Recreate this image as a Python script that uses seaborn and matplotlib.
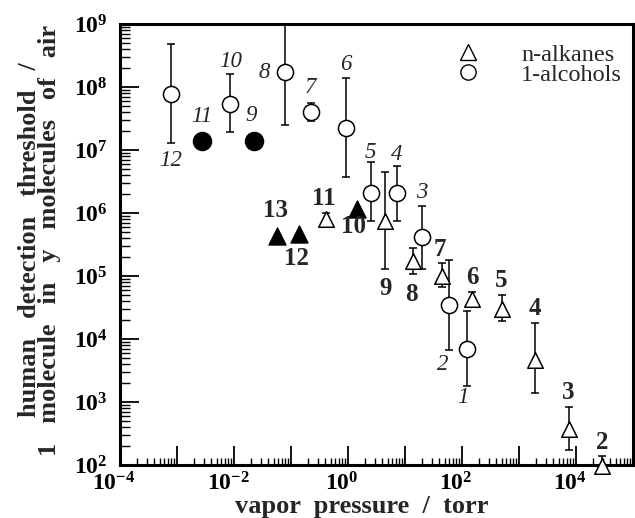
import numpy as np
import pandas as pd
import matplotlib
matplotlib.use("Agg")
import matplotlib.pyplot as plt
import matplotlib.ticker as mticker
import matplotlib.transforms as mtrans
from matplotlib.lines import Line2D
import seaborn as sns

# ---- data ----
alk_n = [2, 3, 4, 5, 6, 7, 8, 9, 10, 11, 12, 13]
alk_vp = [2.9e4, 7400, 1900, 510, 150, 45, 13.8, 4.5, 1.44, 0.41, 0.138, 0.057]
alk_thr = [95, 370, 4700, 3.0e4, 4.3e4, 1.0e5, 1.7e5, 7.6e5, 1.17e6, 7.9e5, 4.6e5, 4.3e5]
alk_lo = [95, 170, 1400, 1.9e4, 3.5e4, 6.8e4, 1.07e5, 1.3e5, np.nan, 6.6e5, np.nan, np.nan]
alk_hi = [140, 830, 1.8e4, 5.0e4, 5.6e4, 1.6e5, 2.8e5, 4.5e6, np.nan, 1.0e6, np.nan, np.nan]
alk_filled = [False, False, False, False, False, False, False, False, True, False, True, True]

alc_n = [1, 2, 3, 4, 5, 6, 7, 8, 9, 10, 11, 12]
alc_vp = [124, 59, 20, 7.1, 2.5, 0.91, 0.22, 0.078, 0.0223, 8.6e-3, 2.76e-3, 7.8e-4]
alc_thr = [6.9e3, 3.5e4, 4.1e5, 2.1e6, 2.1e6, 2.2e7, 4.0e7, 1.7e8, 1.4e7, 5.4e7, 1.4e7, 7.8e7]
alc_lo = [1.8e3, 6.8e3, 1.3e5, 7.6e5, 7.6e5, 3.7e6, 2.85e7, 2.5e7, np.nan, 1.9e7, np.nan, 1.3e7]
alc_hi = [2.8e4, 1.8e5, 1.3e6, 5.5e6, 6.5e6, 1.4e8, 5.6e7, 1.5e9, np.nan, 1.6e8, np.nan, 4.9e8]
alc_filled = [False, False, False, False, False, False, False, False, True, False, True, False]

x_tick_labels = [r"$\mathbf{10^{-4}}$", r"$\mathbf{10^{-2}}$", r"$\mathbf{10^{0}}$",
                 r"$\mathbf{10^{2}}$", r"$\mathbf{10^{4}}$"]

# label offsets (pixels) for the carbon-number annotations
alk_off = {2: (0, 24), 3: (0, 37), 4: (0, 51), 5: (-1, 28), 6: (0, 22), 7: (-2, 27),
           8: (-2, -33), 9: (0, -68), 10: (-4, -18), 11: (-2, 21), 12: (-2, -24), 13: (-2, 26)}
alc_off = {1: (-4, -48), 2: (-6, -60), 3: (0, 45), 4: (0, 38), 5: (0, 40), 6: (0, 64),
           7: (0, 25), 8: (-21, 0), 9: (-3, 25), 10: (0, 42), 11: (0, 24), 12: (0, -67)}

alk = pd.DataFrame(dict(n=alk_n, vp=alk_vp, thr=alk_thr, lo=alk_lo, hi=alk_hi, filled=alk_filled))
alc = pd.DataFrame(dict(n=alc_n, vp=alc_vp, thr=alc_thr, lo=alc_lo, hi=alc_hi, filled=alc_filled))

sns.set_style("ticks")
plt.rcParams["font.family"] = ["Liberation Serif", "DejaVu Serif"]
plt.rcParams["mathtext.fontset"] = "custom"
plt.rcParams["mathtext.rm"] = "Liberation Serif"
plt.rcParams["mathtext.bf"] = "Liberation Serif:bold"
plt.rcParams["mathtext.it"] = "Liberation Serif:italic"

fig = plt.figure(figsize=(6.35, 5.18), dpi=100)
ax = fig.add_axes([120 / 635, 1 - 465 / 518, (633 - 120) / 635, (465 - 24) / 518])
ax.set_xscale("log")
ax.set_yscale("log")
ax.set_xlim(1e-4, 1.0e5)
ax.set_ylim(1e2, 1e9)

# error bars
for df in (alk, alc):
    e = df.dropna()
    ax.errorbar(e["vp"], e["thr"], yerr=[e["thr"] - e["lo"], e["hi"] - e["thr"]],
                fmt="none", ecolor="black", elinewidth=1.1, capsize=3.2, capthick=1.1,
                zorder=2, clip_on=True)

ms = 125
sns.scatterplot(data=alk[~alk.filled], x="vp", y="thr", marker="^", s=ms,
                facecolor="white", edgecolor="black", linewidth=1.1, ax=ax, zorder=3, clip_on=False)
sns.scatterplot(data=alk[alk.filled], x="vp", y="thr", marker="^", s=ms + 25,
                color="black", edgecolor="black", linewidth=1.0, ax=ax, zorder=3)
sns.scatterplot(data=alc[~alc.filled], x="vp", y="thr", marker="o", s=ms + 10,
                facecolor="white", edgecolor="black", linewidth=1.1, ax=ax, zorder=3)
sns.scatterplot(data=alc[alc.filled], x="vp", y="thr", marker="o", s=ms + 45,
                color="black", edgecolor="black", linewidth=1.0, ax=ax, zorder=3)

for _, r in alk.iterrows():
    ax.annotate(str(int(r.n)), (r.vp, r.thr), xytext=alk_off[int(r.n)], textcoords="offset pixels",
                ha="center", va="center", fontsize=18, fontweight="bold", annotation_clip=False)
for _, r in alc.iterrows():
    ax.annotate(str(int(r.n)), (r.vp, r.thr), xytext=alc_off[int(r.n)], textcoords="offset pixels",
                ha="center", va="center", fontsize=16.5, fontstyle="italic", annotation_clip=False)

# axes styling
for s in ax.spines.values():
    s.set_linewidth(2.2)
    s.set_color("black")
ax.xaxis.set_major_locator(mticker.LogLocator(base=10, numticks=100))
ax.xaxis.set_minor_locator(mticker.LogLocator(base=10, subs=np.arange(2, 10), numticks=100))
ax.yaxis.set_major_locator(mticker.LogLocator(base=10, numticks=100))
ax.yaxis.set_minor_locator(mticker.LogLocator(base=10, subs=np.arange(2, 10), numticks=100))
ax.xaxis.set_minor_formatter(mticker.NullFormatter())
ax.yaxis.set_minor_formatter(mticker.NullFormatter())

xlabels = {-4: x_tick_labels[0], -2: x_tick_labels[1], 0: x_tick_labels[2], 2: x_tick_labels[3], 4: x_tick_labels[4]}
ax.xaxis.set_major_formatter(mticker.FuncFormatter(
    lambda v, p: xlabels.get(int(round(np.log10(v))), "")))
ax.yaxis.set_major_formatter(mticker.FuncFormatter(
    lambda v, p: r"$\mathbf{10^{%d}}$" % int(round(np.log10(v))) if 2 <= round(np.log10(v)) <= 9 else ""))
ax.tick_params(axis="both", which="major", direction="in", length=14, width=1.3,
               labelsize=17, colors="black")
ax.tick_params(axis="x", which="minor", direction="in", length=5, width=1.0, colors="black")
ax.tick_params(axis="y", which="minor", direction="in", length=7, width=1.0, colors="black")
ax.tick_params(axis="y", which="major", pad=9)
ax.tick_params(axis="x", which="major", pad=5)

shift = mtrans.ScaledTranslation(-6 / 100, 0, fig.dpi_scale_trans)
for lbl in ax.get_xticklabels():
    lbl.set_transform(lbl.get_transform() + shift)

ax.set_xlabel("vapor  pressure  /  torr", fontsize=19, fontweight="bold")
ax.xaxis.set_label_coords(0.472, -0.069)
ax.set_ylabel("human   detection   threshold   /\n1   molecule   in   y   molecules   of   air",
              fontsize=19, fontweight="bold", linespacing=0.85)
ax.yaxis.set_label_coords(-0.115, 0.51)

handles = [Line2D([], [], marker="^", linestyle="none", markersize=11, markerfacecolor="white",
                  markeredgecolor="black", markeredgewidth=1.0),
           Line2D([], [], marker="o", linestyle="none", markersize=11, markerfacecolor="white",
                  markeredgecolor="black", markeredgewidth=1.0)]
ax.legend(handles, ["n-alkanes", "1-alcohols"], loc="upper right", frameon=False,
          fontsize=17.5, handletextpad=1.2, labelspacing=-0.08, borderaxespad=0.05,
          bbox_to_anchor=(1.0, 0.98))

fig.savefig("out.png", dpi=100)
